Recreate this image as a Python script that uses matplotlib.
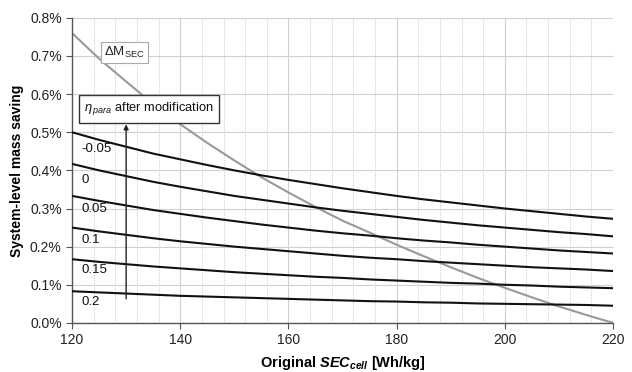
import matplotlib
matplotlib.use("Agg")
import matplotlib.pyplot as plt
from matplotlib.ticker import MultipleLocator, FuncFormatter

plt.rcParams['font.family'] = ['Liberation Sans', 'DejaVu Sans']
plt.rcParams['mathtext.fontset'] = 'custom'
plt.rcParams['mathtext.rm'] = 'Liberation Sans'
plt.rcParams['mathtext.it'] = 'Liberation Sans:italic'
plt.rcParams['mathtext.bf'] = 'Liberation Sans:bold'
plt.rcParams['mathtext.bfit'] = 'Liberation Sans:italic:bold'

# Data (values in %)
sec_cell = [120, 125, 130, 135, 140, 145, 150, 155, 160, 165, 170,
            175, 180, 185, 190, 195, 200, 205, 210, 215, 220]
eta_labels = ["-0.05", "0", "0.05", "0.1", "0.15", "0.2"]
saving_m005 = [0.500, 0.480, 0.462, 0.444, 0.429, 0.414, 0.400, 0.387, 0.375, 0.364, 0.353,
               0.343, 0.333, 0.324, 0.316, 0.308, 0.300, 0.293, 0.286, 0.279, 0.273]
saving_0 = [0.417, 0.400, 0.385, 0.370, 0.357, 0.345, 0.333, 0.323, 0.313, 0.303, 0.294,
            0.286, 0.278, 0.270, 0.263, 0.256, 0.250, 0.244, 0.238, 0.233, 0.227]
saving_005 = [0.333, 0.320, 0.308, 0.296, 0.286, 0.276, 0.267, 0.258, 0.250, 0.242, 0.235,
              0.229, 0.222, 0.216, 0.211, 0.205, 0.200, 0.195, 0.190, 0.186, 0.182]
saving_01 = [0.250, 0.240, 0.231, 0.222, 0.214, 0.207, 0.200, 0.194, 0.188, 0.182, 0.176,
             0.171, 0.167, 0.162, 0.158, 0.154, 0.150, 0.146, 0.143, 0.140, 0.136]
saving_015 = [0.167, 0.160, 0.154, 0.148, 0.143, 0.138, 0.133, 0.129, 0.125, 0.121, 0.118,
              0.114, 0.111, 0.108, 0.105, 0.103, 0.100, 0.098, 0.095, 0.093, 0.091]
saving_02 = [0.083, 0.080, 0.077, 0.074, 0.071, 0.069, 0.067, 0.065, 0.063, 0.061, 0.059,
             0.057, 0.056, 0.054, 0.053, 0.051, 0.050, 0.049, 0.048, 0.047, 0.045]
delta_m_sec = [0.760, 0.693, 0.633, 0.574, 0.521, 0.472, 0.426, 0.382, 0.342, 0.304, 0.268,
               0.237, 0.205, 0.175, 0.146, 0.118, 0.092, 0.067, 0.043, 0.021, 0.000]

series = [saving_m005, saving_0, saving_005, saving_01, saving_015, saving_02]
label_y = [0.455, 0.376, 0.300, 0.218, 0.138, 0.056]

fig = plt.figure(figsize=(6.32, 3.72), dpi=100)
ax = fig.add_axes([0.114, 0.132, 0.856, 0.820])

ax.set_xlim(120, 220)
ax.set_ylim(0, 0.8)
ax.xaxis.set_major_locator(MultipleLocator(20))
ax.xaxis.set_minor_locator(MultipleLocator(4))
ax.yaxis.set_major_locator(MultipleLocator(0.1))
ax.yaxis.set_major_formatter(FuncFormatter(lambda v, p: f"{v:.1f}%"))

ax.grid(which='major', color='#d0d0d0', linewidth=0.8)
ax.grid(which='minor', axis='x', color='#c8c8c8', linewidth=0.6, linestyle=(0, (1.5, 1.5)))
ax.set_axisbelow(True)

for s in ['top', 'right']:
    ax.spines[s].set_visible(False)
for s in ['left', 'bottom']:
    ax.spines[s].set_color('#555555')
    ax.spines[s].set_linewidth(1.0)
ax.tick_params(which='major', length=4, color='#555555', labelsize=10, labelcolor='#222222')
ax.tick_params(which='minor', length=0)

ax.plot(sec_cell, delta_m_sec, color='#999999', linewidth=1.5, zorder=2)
for vals in series:
    ax.plot(sec_cell, vals, color='#111111', linewidth=1.5, zorder=3)

for lab, y in zip(eta_labels, label_y):
    ax.text(121.8, y, lab, fontsize=9.5, va='center', ha='left', color='#111111')

# Arrow
ax.annotate('', xy=(130, 0.528), xytext=(130, 0.056),
            arrowprops=dict(arrowstyle='-|>', color='#222222', lw=1.0, mutation_scale=7),
            zorder=4)

# eta_para box
ax.text(122.3, 0.561, r"$\eta_{\,para}$ after modification", fontsize=9.3,
        va='center', ha='left', color='#111111', zorder=5,
        bbox=dict(boxstyle='square,pad=0.42', facecolor='white', edgecolor='#333333', linewidth=1.0))

# Delta M_SEC box
ax.text(125.9, 0.709, r"$\Delta$M$_{\mathrm{SEC}}$", fontsize=9.5,
        va='center', ha='left', color='#222222', zorder=5,
        bbox=dict(boxstyle='square,pad=0.25', facecolor='white', edgecolor='#aaaaaa', linewidth=0.8))

ax.set_xlabel(r"Original $\mathbfit{SEC}_{\mathbfit{cell}}$ [Wh/kg]", fontsize=10.5, fontweight='bold', labelpad=5)
ax.set_ylabel("System-level mass saving", fontsize=10, fontweight='bold', labelpad=4)

fig.savefig("out.png", dpi=100)
